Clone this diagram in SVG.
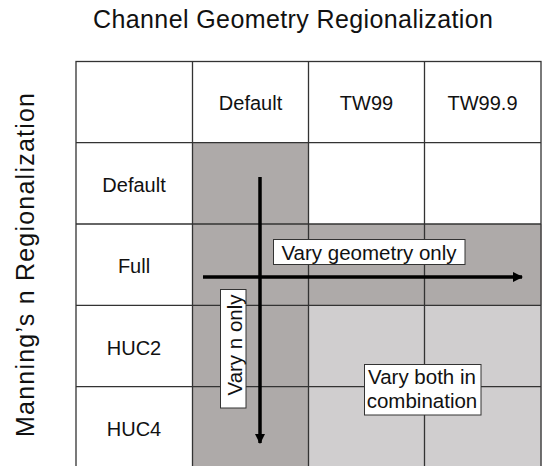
<svg xmlns="http://www.w3.org/2000/svg" width="542" height="466" viewBox="0 0 542 466">
<style>
.t{font-family:"Liberation Sans",Arial,sans-serif;fill:#111;}
.big{font-size:25px;}
.cell{font-size:20px;text-anchor:middle;}
.lt{font-size:20.5px;text-anchor:middle;}
.grid{stroke:#333;stroke-width:1.3;fill:none;}
.lbl{fill:#fff;stroke:#333;stroke-width:1;}
.arr{stroke:#000;stroke-width:3.5;fill:none;}
</style>
<defs>
<marker id="ah" viewBox="0 0 10 10" refX="9" refY="5" markerWidth="3" markerHeight="3" orient="auto" markerUnits="strokeWidth">
<path d="M0,0 L10,5 L0,10 z" fill="#000"/>
</marker>
</defs>
<rect width="542" height="466" fill="#fff"/>
<text class="t big" x="293" y="27.5" text-anchor="middle" textLength="400" lengthAdjust="spacing">Channel Geometry Regionalization</text>
<text class="t big" transform="translate(33.5,265) rotate(-90)" text-anchor="middle" textLength="344" lengthAdjust="spacing">Manning’s n Regionalization</text>
<g id="fills">
<rect x="192.5" y="142.7" width="116" height="330" fill="#aeaaa9"/>
<rect x="308.5" y="224" width="233" height="81.3" fill="#aeaaa9"/>
<rect x="308.5" y="305.3" width="233" height="170" fill="#d0cecf"/>
</g>
<g id="grid" class="grid">
<rect x="76" y="61.5" width="465" height="410"/>
<line x1="192.5" y1="61.5" x2="192.5" y2="470"/>
<line x1="308.5" y1="61.5" x2="308.5" y2="470"/>
<line x1="424.5" y1="61.5" x2="424.5" y2="470"/>
<line x1="76" y1="142.7" x2="541" y2="142.7"/>
<line x1="76" y1="224" x2="541" y2="224"/>
<line x1="76" y1="305.3" x2="541" y2="305.3"/>
<line x1="76" y1="386.7" x2="541" y2="386.7"/>
</g>
<g id="headers" class="t cell">
<text x="250.5" y="110">Default</text>
<text x="366.5" y="110">TW99</text>
<text x="482.5" y="110">TW99.9</text>
<text x="134" y="191.5">Default</text>
<text x="134" y="273">Full</text>
<text x="134" y="355">HUC2</text>
<text x="134" y="435.5">HUC4</text>
</g>
<g id="connectors">
<line class="arr" x1="260" y1="177" x2="260" y2="443" marker-end="url(#ah)"/>
<line class="arr" x1="203" y1="277" x2="522" y2="277" marker-end="url(#ah)"/>
</g>
<g id="label-geometry">
<rect class="lbl" x="273.5" y="239.5" width="191.5" height="25"/>
<text class="t lt" x="369" y="259.5">Vary geometry only</text>
</g>
<g id="label-n">
<rect class="lbl" x="220.5" y="289.5" width="25.5" height="118.5"/>
<text class="t lt" transform="translate(242,345) rotate(-90)">Vary n only</text>
</g>
<g id="label-both">
<rect class="lbl" x="364.5" y="364.5" width="116.5" height="50.5"/>
<text class="t lt" x="422" y="384">Vary both in</text>
<text class="t lt" x="422" y="407.5">combination</text>
</g>
</svg>
